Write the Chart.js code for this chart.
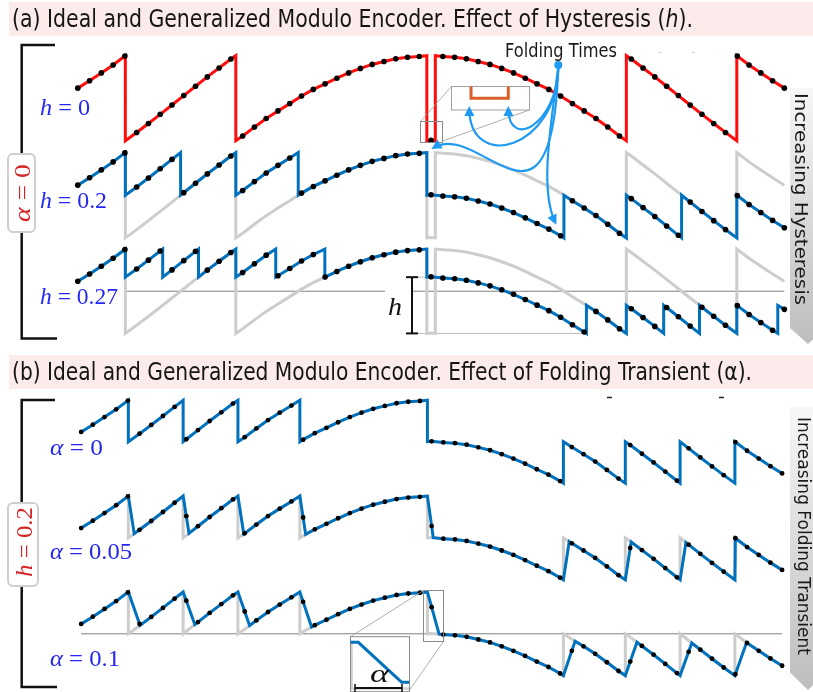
<!DOCTYPE html>
<html><head><meta charset="utf-8">
<script src="https://cdn.jsdelivr.net/npm/chart.js@4.4.1/dist/chart.umd.min.js"></script>
<style>
html,body{margin:0;padding:0;background:#fff;}
#wrap{position:relative;width:813px;height:692px;overflow:hidden;background:#fff;}
#c{position:absolute;left:0;top:0;}
.band{position:absolute;left:9px;width:804px;height:34px;background:#fcebeb;}
.t{position:absolute;white-space:nowrap;line-height:1;left:0;top:0;}
.title{font-family:"DejaVu Sans Condensed","Liberation Sans Narrow","Open Sans",sans-serif;font-size:24px;color:#151515;}
.math{font-family:"Liberation Serif","DejaVu Serif",serif;font-size:23px;color:#2626f2;}
.red{color:#d42424;}
.blk{color:#111;}
.sans{font-family:"DejaVu Sans","Open Sans",sans-serif;font-size:18px;color:#1a1a1a;}
.box{position:absolute;background:#fff;border:2px solid #cfcfcf;border-radius:6px;box-sizing:border-box;}
</style></head>
<body><div id="wrap">
<div class="band" style="top:2px"></div>
<div class="band" style="top:355px"></div>
<canvas id="c" width="813" height="692"></canvas>
<div class="box" style="left:7px;top:153px;width:29px;height:80px"></div>
<div class="box" style="left:7px;top:502px;width:32px;height:85px"></div>
<span class="t title" id="ta">(a) Ideal and Generalized Modulo Encoder. Effect of Hysteresis (<i>h</i>).</span>
<span class="t title" id="tb">(b) Ideal and Generalized Modulo Encoder. Effect of Folding Transient (α).</span>
<span class="t math" id="l1"><i>h</i> = 0</span>
<span class="t math" id="l2"><i>h</i> = 0.2</span>
<span class="t math" id="l3"><i>h</i> = 0.27</span>
<span class="t math" id="l4"><i>α</i> = 0</span>
<span class="t math" id="l5"><i>α</i> = 0.05</span>
<span class="t math" id="l6"><i>α</i> = 0.1</span>
<span class="t math red" id="ra"><i>α</i> = 0</span>
<span class="t math red" id="rb"><i>h</i> = 0.2</span>
<span class="t math blk" id="hl" style="font-size:26px"><i>h</i></span>
<span class="t math blk" id="al" style="font-size:25px"><i>α</i></span>
<span class="t sans" id="ft" style="font-size:19px">Folding Times</span>
<span class="t sans" id="bh">Increasing Hysteresis</span>
<span class="t sans" id="bf">Increasing Folding Transient</span>
</div>
<script>
// ---------------- data ----------------
const sampleIndex = [0,1,2,3,4,5,6,7,8,9,10,11,12,13,14,15,16,17,18,19,20,21,22,23,24,25,26,27,28,29,30,
  31,32,33,34,35,36,37,38,39,40,41,42,43,44,45,46,47,48,49,50,51,52,53,54,55,56,57,58,59,60];

// ideal modulo encoder (h = 0, alpha = 0), normalised output 0..1
const idealH0 = [.618,.705,.797,.891,.996,.097,.202,.310,.420,.530,.640,.750,.855,.960,.055,.160,.261,.350,.436,.525,
  .603,.668,.735,.797,.850,.897,.932,.964,.982,.991,.005,.991,.982,.964,.932,.897,.850,.797,.735,.668,
  .603,.525,.436,.350,.261,.160,.055,.960,.855,.750,.640,.530,.420,.310,.202,.097,.996,.891,.797,.705,.618];
// folding events: [start time, level before, end time, level after]
const foldsH0 = [[4.04,1,4.04,0],[13.42,1,13.42,0],[29.64,1,29.64,0],[30.36,0,30.36,1],[46.58,0,46.58,1],[55.96,0,55.96,1]];

// hysteresis h = 0.2 (alpha = 0)
const hyst02 = [.618,.705,.797,.891,.996,.597,.702,.810,.920,.530,.640,.750,.855,.960,.555,.660,.761,.850,.936,.525,
  .603,.668,.735,.797,.850,.897,.932,.964,.982,.991,.505,.491,.482,.464,.432,.397,.350,.297,.235,.168,
  .103,.025,.436,.350,.261,.160,.055,.460,.355,.250,.140,.030,.420,.310,.202,.097,.496,.391,.297,.205,.118];
const foldsH02 = [[4.04,1,4.04,.5],[8.73,1,8.73,.5],[13.42,1,13.42,.5],[18.72,1,18.72,.5],[29.64,1,29.64,.5],
  [41.28,0,41.28,.5],[46.58,0,46.58,.5],[51.27,0,51.27,.5],[55.96,0,55.96,.5]];

// hysteresis h = 0.27 (alpha = 0)
const hyst027 = [.618,.705,.797,.891,.996,.764,.869,.977,.753,.863,.973,.750,.855,.960,.722,.827,.928,.683,.769,.858,
  .936,.668,.735,.797,.850,.897,.932,.964,.982,.991,.672,.658,.649,.631,.599,.564,.517,.464,.402,.335,
  .270,.192,.103,.017,.261,.160,.055,.293,.188,.083,.307,.197,.087,.310,.202,.097,.329,.224,.130,.038,.285];
const foldsH027 = [[4.04,1,4.04,.667],[7.21,1,7.21,.667],[10.25,1,10.25,.667],[13.42,1,13.42,.667],[16.81,1,16.81,.667],
  [20.98,1,20.98,.667],[29.64,1,29.64,.667],[43.19,0,43.19,.333],[46.58,0,46.58,.333],[49.75,0,49.75,.333],
  [52.79,0,52.79,.333],[55.96,0,55.96,.333],[59.44,0,59.44,.333]];

// h = 0.2 with folding transient alpha = 0.05
const alpha005 = [.618,.705,.797,.891,.996,.597,.702,.810,.920,.760,.640,.750,.855,.960,.555,.660,.761,.850,.936,.744,
  .603,.668,.735,.797,.850,.897,.932,.964,.982,.991,.642,.491,.482,.464,.432,.397,.350,.297,.235,.168,
  .103,.025,.436,.350,.261,.160,.055,.380,.355,.250,.140,.030,.420,.310,.202,.097,.496,.391,.297,.205,.118];
const foldsA005 = [[4.04,1,4.54,.551],[8.73,1,9.23,.555],[13.42,1,13.92,.547],[18.72,1,19.22,.542],[29.64,1,30.14,.503],
  [41.28,0,41.78,.456],[46.58,0,47.08,.452],[51.27,0,51.77,.445],[55.96,0,56.46,.448]];

// h = 0.2 with folding transient alpha = 0.1
const alpha01 = [.618,.705,.797,.891,.996,.617,.702,.810,.920,.895,.640,.750,.855,.960,.767,.660,.761,.850,.936,.883,
  .603,.668,.735,.797,.850,.897,.932,.964,.982,.991,.819,.491,.482,.464,.432,.397,.350,.297,.235,.168,
  .103,.025,.297,.350,.261,.160,.055,.168,.355,.250,.140,.030,.285,.310,.202,.097,.016,.391,.297,.205,.118];
const foldsA01 = [[4.04,1,5.04,.601],[8.73,1,9.73,.610],[13.42,1,14.42,.599],[18.72,1,19.72,.581],[29.64,1,30.64,.496],
  [41.28,0,42.28,.412],[46.58,0,47.58,.399],[51.27,0,52.27,.390],[55.96,0,56.96,.395]];

// ---------------- layout ----------------
const W = 813, H = 692;
const xPix = {xa:[75.5,787], xb:[78.9,784.7]};            // pixel of sample 0 and sample 60
const yPix = {ya1:[139,53.3], ya2:[237,151], ya3:[333.3,248.3],
              yb1:[484.3,400.7], yb2:[581.7,497.3], yb3:[678.3,594]}; // pixel of level 0 and level 1

function buildLine(vals, folds){
  const pts = vals.map((v,i)=>({x:sampleIndex[i], y:v, s:1}));
  folds.forEach(f=>{ pts.push({x:f[0],y:f[1],s:0}); pts.push({x:f[2],y:f[3],s:0}); });
  pts.sort((a,b)=>a.x-b.x);
  return pts;
}
const RED='#ff0d0d', BLUE='#0072bd', GRAY='#cdcdcd';
function ds(vals, folds, color, xid, yid, r, order){
  return {data:buildLine(vals,folds), borderColor:color, borderWidth:3, borderJoinStyle:'miter',
    pointRadius:(c)=> (r>0 && c.raw && c.raw.s) ? r : 0, pointBackgroundColor:'#000', pointBorderWidth:0,
    pointHoverRadius:0, xAxisID:xid, yAxisID:yid, order:order, clip:false, fill:false, tension:0};
}
const datasets = [
  ds(idealH0, foldsH0, GRAY, 'xa','ya2',0,5),
  ds(idealH0, foldsH0, GRAY, 'xa','ya3',0,5),
  ds(hyst02, foldsH02, GRAY, 'xb','yb2',0,5),
  ds(hyst02, foldsH02, GRAY, 'xb','yb3',0,5),
  ds(idealH0, foldsH0, RED, 'xa','ya1',2.8,1),
  ds(hyst02, foldsH02, BLUE, 'xa','ya2',2.8,1),
  ds(hyst027, foldsH027, BLUE, 'xa','ya3',2.8,1),
  ds(hyst02, foldsH02, BLUE, 'xb','yb1',2.4,1),
  ds(alpha005, foldsA005, BLUE, 'xb','yb2',2.4,1),
  ds(alpha01, foldsA01, BLUE, 'xb','yb3',2.4,1)
];
const scales = {};
for (const k in xPix){ const [p0,p1]=xPix[k]; const u=(p1-p0)/60;
  scales[k]={type:'linear',axis:'x',position:'bottom',display:false,min:-p0/u,max:(W-p0)/u}; }
for (const k in yPix){ const [b,t]=yPix[k]; const d=b-t;
  scales[k]={type:'linear',axis:'y',position:'left',display:false,min:(b-H)/d,max:b/d}; }

// ---------------- decorations ----------------
function poly(c, pts, color, w){ c.beginPath(); c.moveTo(pts[0][0],pts[0][1]);
  for(let i=1;i<pts.length;i++) c.lineTo(pts[i][0],pts[i][1]); c.strokeStyle=color; c.lineWidth=w; c.stroke(); }
function arrow(c, p0,p1,p2,p3,color){
  c.beginPath(); c.moveTo(...p0); c.bezierCurveTo(...p1,...p2,...p3);
  c.strokeStyle=color; c.lineWidth=2.2; c.stroke();
  const a=Math.atan2(p3[1]-p2[1],p3[0]-p2[0]); const L=10, Wd=5;
  const tx=p3[0]+Math.cos(a)*3, ty=p3[1]+Math.sin(a)*3;
  c.beginPath(); c.moveTo(tx,ty);
  c.lineTo(tx-L*Math.cos(a)+Wd*Math.sin(a), ty-L*Math.sin(a)-Wd*Math.cos(a));
  c.lineTo(tx-L*Math.cos(a)-Wd*Math.sin(a), ty-L*Math.sin(a)+Wd*Math.cos(a));
  c.closePath(); c.fillStyle=color; c.fill();
}
function banner(c, x0, y0, y1, tipY){
  const g=c.createLinearGradient(0,y0,0,tipY); g.addColorStop(0,'#f7f7f7'); g.addColorStop(1,'#bdbdbd');
  c.beginPath(); c.moveTo(x0,y0); c.lineTo(830,y0); c.lineTo(830,y1); c.lineTo(808,tipY); c.lineTo(x0,y1+(tipY-y1)*0.2);
  c.closePath(); c.fillStyle=g; c.fill();
}
const deco = {
  id:'deco',
  beforeDatasetsDraw(chart){
    const c=chart.ctx, s=chart.scales; c.save();
    const ya=s.ya3.getPixelForValue(0.5), yb=s.yb3.getPixelForValue(0.5);
    poly(c,[[s.xa.getPixelForValue(4.04),ya],[385,ya]],'#808080',1);
    poly(c,[[413,ya],[s.xa.getPixelForValue(60),ya]],'#808080',1);
    poly(c,[[s.xb.getPixelForValue(0),yb],[s.xb.getPixelForValue(60),yb]],'#808080',1);
    const yh1=s.ya3.getPixelForValue(0.667), yh0=s.ya3.getPixelForValue(0);
    poly(c,[[413,yh1],[433,yh1]],'#bbbbbb',1);
    poly(c,[[413,yh0],[586,yh0]],'#bbbbbb',1);
    banner(c,790,88,324,344);
    banner(c,790,407,668,690);
    c.lineCap='butt';
    poly(c,[[55,45],[21.7,45],[21.7,338.5],[57,338.5]],'#111',2.5);
    poly(c,[[55,400],[21.7,400],[21.7,687],[57,687]],'#111',2.5);
    poly(c,[[607,397.5],[612,397.5]],'#222',1.5);
    poly(c,[[719,397.5],[724,397.5]],'#222',1.5);
    poly(c,[[659,52.5],[662,52.5]],'#d0d0d0',1);
    poly(c,[[692,52.5],[695,52.5]],'#d0d0d0',1);
    c.restore();
  },
  afterDatasetsDraw(chart){
    const c=chart.ctx, s=chart.scales; c.save();
    c.strokeStyle='#8a8a8a'; c.lineWidth=1;
    c.strokeRect(420.5,121.5,22,21);
    poly(c,[[420.5,121.5],[451.5,86.5]],'#9a9a9a',0.8);
    poly(c,[[442.5,141],[529.5,110]],'#9a9a9a',0.8);
    c.fillStyle='#fff'; c.fillRect(451.5,86.5,78,23.5);
    c.strokeStyle='#8a8a8a'; c.strokeRect(451.5,86.5,78,23.5);
    poly(c,[[471,86.5],[471,98.3],[508.3,98.3],[508.3,86.5]],'#d9602b',3);
    const yh1=s.ya3.getPixelForValue(0.667), yh0=s.ya3.getPixelForValue(0);
    poly(c,[[412,yh1],[412,yh0]],'#111',2);
    poly(c,[[406,yh1],[418,yh1]],'#111',2);
    poly(c,[[406,yh0],[418,yh0]],'#111',2);
    c.strokeStyle='#8a8a8a'; c.lineWidth=1;
    c.strokeRect(423.5,590.5,20,51);
    poly(c,[[350.5,636.7],[423.5,590.5]],'#9a9a9a',0.8);
    poly(c,[[409.5,690],[443.5,641.5]],'#9a9a9a',0.8);
    c.fillStyle='#fff'; c.fillRect(350.5,636.7,59,55);
    poly(c,[[351.5,642],[351.5,688.5],[409,688.5]],'#d0d0d0',2.5);
    c.strokeStyle='#8a8a8a'; c.lineWidth=1; c.strokeRect(350.5,636.7,59,55);
    poly(c,[[350.5,642.3],[358.3,642.3],[401.7,682.3],[409.3,682.3]],BLUE,3);
    poly(c,[[355,688],[402,688]],'#111',2);
    poly(c,[[355,684],[355,692]],'#111',1.5);
    poly(c,[[402,684],[402,692]],'#111',1.5);
    const AB='#1e9af2';
    arrow(c,[558.3,67],[557,150],[470,172],[469.3,109],AB);
    arrow(c,[558.3,67],[557,125],[509,150],[508.3,109],AB);
    arrow(c,[558.3,67],[552,260],[480,120],[434,147.5],AB);
    arrow(c,[558.3,67],[550,130],[540,190],[555,222],AB);
    c.beginPath(); c.arc(558.3,65,4,0,Math.PI*2); c.fillStyle=AB; c.fill();
    c.restore();
  }
};

new Chart(document.getElementById('c'), {
  type:'line',
  data:{datasets},
  options:{responsive:false, animation:false, devicePixelRatio:1, events:[],
    layout:{padding:0},
    plugins:{legend:{display:false}, tooltip:{enabled:false}},
    scales},
  plugins:[deco]
});

// ---------------- text placement ----------------
function place(id, x, baseline, width){
  const el=document.getElementById(id);
  const bl=document.createElement('span'); bl.style.cssText='display:inline-block;width:0;height:0;';
  el.appendChild(bl);
  const w=el.getBoundingClientRect().width;
  el.style.transformOrigin='0 0';
  el.style.transform='scaleX('+(width/w)+')';
  el.style.left=x+'px'; el.style.top=(baseline-bl.offsetTop)+'px';
}
function placeRot(id, cx, cy, len, deg){
  const el=document.getElementById(id);
  const w=el.getBoundingClientRect().width;
  el.style.left=cx+'px'; el.style.top=cy+'px';
  el.style.transform='translate(-50%,-50%) rotate('+deg+'deg) scaleX('+(len/w)+')';
}
function layoutText(){
  place('ta',12,27,681);
  place('tb',12,380,740);
  place('l1',40,115,50);
  place('l2',40,208,67);
  place('l3',40,304,78);
  place('l4',50,455,53);
  place('l5',50,559,82);
  place('l6',50,666,70);
  place('hl',388,315,14);
  place('al',370,682,19);
  place('ft',505,57,112);
  placeRot('ra',21.5,193,58,-90);
  placeRot('rb',24,542,70,-90);
  placeRot('bh',801,199,212,90);
  placeRot('bf',804,536,238,90);
}
if (document.fonts && document.fonts.ready) document.fonts.ready.then(layoutText); else layoutText();
</script>
</body></html>
